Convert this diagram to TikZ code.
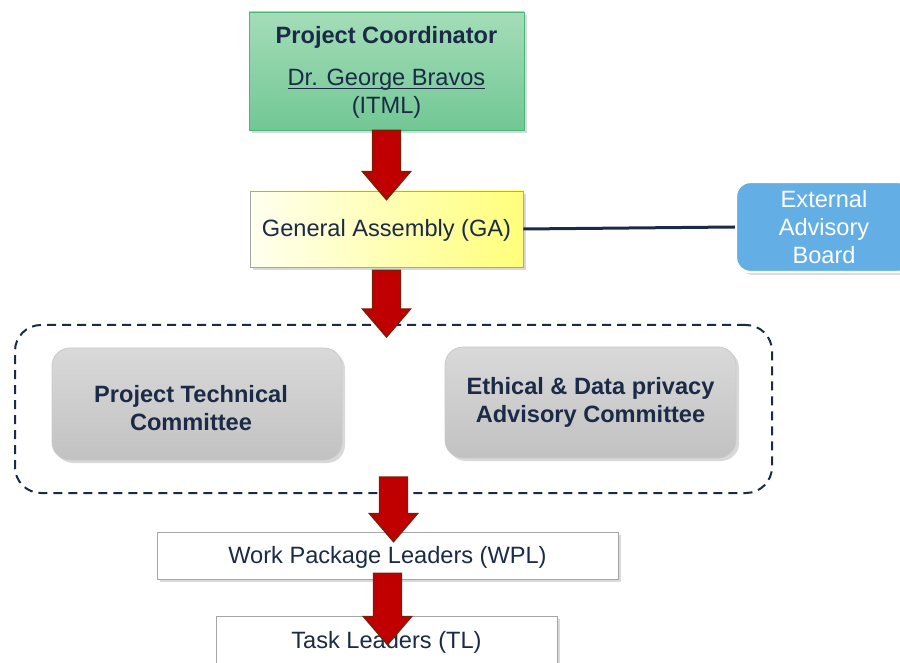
\documentclass[tikz,border=0pt]{standalone}
\usepackage{fontspec}
\setmainfont{Liberation Sans}
\usepackage{tikz}
\usetikzlibrary{calc,shadows}

\definecolor{navy}{HTML}{1B2A47}
\definecolor{pcgreenA}{HTML}{A4DDB8}
\definecolor{pcgreenB}{HTML}{72C794}
\definecolor{pcedge}{HTML}{45B874}
\definecolor{eabblue}{HTML}{63AEE5}
\definecolor{boxgrey}{HTML}{A6A6A6}
\definecolor{arrowred}{HTML}{C00000}
\definecolor{arrowedge}{HTML}{7A1E08}

% underline close to the baseline
\newcommand{\ulname}[1]{\setbox0\hbox{#1}\rlap{\rule[-1.6pt]{\wd0}{0.5pt}}\box0}

\tikzset{
  every node/.style={font=\fontsize{11.8pt}{14.2pt}\selectfont, text=navy, align=center},
  softshadow/.style={drop shadow={shadow xshift=1.5pt, shadow yshift=-1.5pt, opacity=0.3}},
  coordbox/.style={draw=pcedge, top color=pcgreenA, bottom color=pcgreenB, softshadow},
  gabox/.style={draw=boxgrey, left color=yellow!6, right color=yellow!52, softshadow},
  eabbox/.style={draw=white, line width=1.2pt, fill=eabblue, rounded corners=7pt,
    text=white, softshadow},
  committee/.style={draw=boxgrey!60, top color=black!15, bottom color=black!24,
    rounded corners=9pt, font=\fontsize{11.8pt}{14.2pt}\selectfont\bfseries, softshadow},
  leaderbox/.style={draw=boxgrey, fill=white, softshadow},
  group/.style={draw=navy, line width=1pt, dash pattern=on 4.5pt off 3pt, rounded corners=13pt}
}

% block arrow from #1 down to the tip at #2
\newcommand{\bigdown}[2]{%
  \filldraw[draw=arrowedge, line width=0.7pt, fill=arrowred]
    let \p1=(#1), \p2=(#2) in
    (\x1-7pt,\y1) -- (\x1+7pt,\y1) -- (\x1+7pt,\y2+14pt) -- (\x1+12pt,\y2+14pt)
    -- (\x1,\y2) -- (\x1-12pt,\y2+14pt) -- (\x1-7pt,\y2+14pt) -- cycle;}

\begin{document}
\begin{tikzpicture}[x=0.5pt,y=-0.5pt]
  \useasboundingbox (0,0) rectangle (900,663);

  % governance bodies
  \node[coordbox, minimum width=137.5pt, minimum height=59pt] (pc) at (386.5,71)
    {\rule{0pt}{10pt}\textbf{Project Coordinator}\\[7pt] \ulname{Dr. George Bravos}\\ (ITML)};
  \node[gabox, minimum width=136.5pt, minimum height=38pt, text depth=1pt] (ga) at (386.5,229)
    {General Assembly (GA)};
  \node[eabbox, minimum width=88pt, minimum height=45pt] (eab) at (824,227)
    {External\\ Advisory\\ Board};

  % committees
  \node[group, minimum width=378.5pt, minimum height=84pt] (grp) at (393.5,409) {};
  \node[committee, minimum width=145pt, minimum height=56pt] (ptc) at (197,404)
    {\rule{0pt}{12.5pt}Project Technical\hspace*{6pt}\\ Committee\hspace*{6pt}};
  \node[committee, minimum width=145.5pt, minimum height=55.5pt] (edc) at (590.5,402.5)
    {Ethical \& Data privacy\\ Advisory Committee};

  % leaders
  \node[leaderbox, minimum width=230.5pt, minimum height=23.5pt, text depth=0.5pt] (wpl)
    at (387.5,555.5) {Work Package Leaders (WPL)};
  \node[leaderbox, minimum width=170.5pt, minimum height=24pt, text depth=0.5pt] (tl)
    at (386.5,640) {Task Leaders (TL)};

  \draw[navy, line width=1.5pt] (ga.east) -- (eab.west);

  \bigdown{pc.south}{$(ga.north)+(0,-4.5pt)$}
  \bigdown{$(ga.south)+(0,-1.5pt)$}{$(grp.north)+(0,-6.5pt)$}
  \bigdown{$(grp.south)+(0,8.5pt)$}{$(wpl.north)+(0,-5pt)$}
  \bigdown{$(wpl.south)+(0,3pt)$}{$(tl.north)+(0,-14.5pt)$}
\end{tikzpicture}
\end{document}
